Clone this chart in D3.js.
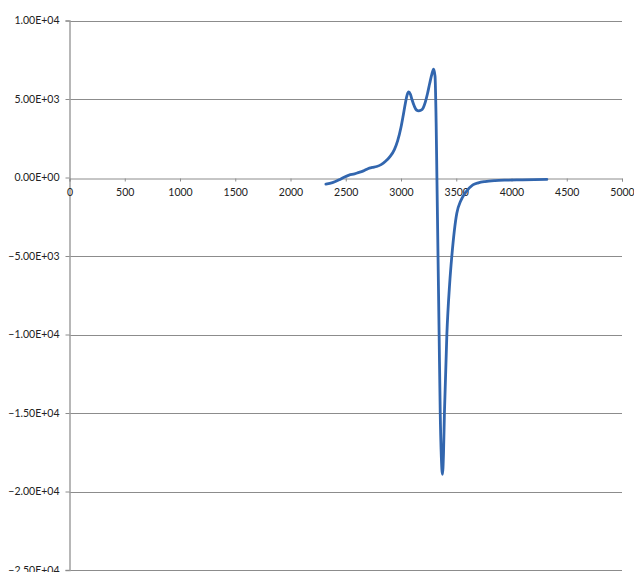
<!DOCTYPE html>
<html>
<head>
<meta charset="utf-8">
<script src="https://cdn.jsdelivr.net/npm/d3@7"></script>
<style>
  html, body { margin: 0; padding: 0; background: #fff; }
  svg { display: block; }
  text { font-family: Lato, "Open Sans", "Liberation Sans", sans-serif; font-size: 10.5px; fill: #222; }
</style>
</head>
<body>
<svg id="chart" width="634" height="572"></svg>
<script>
// Spectrum samples: field position and signal intensity
const fieldValues = [2320, 2380, 2440, 2480, 2530, 2580, 2620, 2660, 2700, 2740, 2780, 2820, 2860, 2900, 2940, 2970, 3000, 3020, 3040, 3055, 3070, 3085, 3100, 3120, 3140, 3160, 3180, 3200, 3220, 3240, 3260, 3280, 3295, 3308, 3318, 3325, 3335, 3345, 3355, 3365, 3375, 3385, 3393, 3415, 3440, 3460, 3505, 3540, 3580, 3650, 3700, 3760, 3850, 3950, 4100, 4320];
const signalValues = [-420, -330, -150, 0, 150, 230, 330, 420, 560, 640, 700, 820, 1030, 1330, 1780, 2350, 3200, 3950, 4750, 5250, 5450, 5300, 4950, 4550, 4300, 4250, 4280, 4420, 4800, 5350, 6000, 6600, 6900, 6450, 3500, 0, -5000, -10000, -15000, -17800, -18900, -17500, -15000, -10000, -6800, -5000, -2270, -1500, -995, -470, -340, -260, -200, -170, -150, -120];

const xTicks = [0, 500, 1000, 1500, 2000, 2500, 3000, 3500, 4000, 4500, 5000];
const yTicks = [10000, 5000, 0, -5000, -10000, -15000, -20000, -25000];

const svg = d3.select("#chart");
const plotLeft = 69.5, plotRight = 622, plotTop = 20.5, plotBottom = 570;

const x = d3.scaleLinear().domain([0, 5000]).range([plotLeft, plotRight]);
const y = d3.scaleLinear().domain([-25000, 10000]).range([plotBottom, plotTop]);

const gridColor = "#8c8c8c";

// horizontal gridlines
svg.append("g")
  .selectAll("line")
  .data(yTicks.filter(v => v !== 0))
  .join("line")
  .attr("x1", plotLeft).attr("x2", plotRight)
  .attr("y1", d => Math.round(y(d)) + 0.5).attr("y2", d => Math.round(y(d)) + 0.5)
  .attr("stroke", gridColor).attr("stroke-width", 1);

// vertical axis with left ticks
const yAxis = svg.append("g")
  .attr("transform", `translate(${plotLeft},0)`)
  .call(d3.axisLeft(y).tickValues(yTicks).tickSize(4).tickPadding(6)
    .tickFormat(d => {
      const s = d3.format(".2e")(d).toUpperCase();
      return s.replace(/E([+-])(\d)$/, "E$10$2");
    }));
yAxis.select(".domain").attr("stroke", "#a0a0a0").attr("stroke-width", 1.5);
yAxis.selectAll(".tick line").attr("stroke", gridColor);
yAxis.selectAll(".tick text").style("font-size", "10.5px").attr("fill", "#222");

// horizontal axis crossing at zero, labels below
const xAxis = svg.append("g")
  .attr("transform", `translate(0,${Math.round(y(0)) + 0.5})`)
  .call(d3.axisBottom(x).tickValues(xTicks).tickSize(3).tickPadding(7).tickFormat(d3.format("d")));
xAxis.select(".domain").attr("stroke", gridColor).attr("stroke-width", 1);
xAxis.selectAll(".tick line").attr("stroke", gridColor);
xAxis.selectAll(".tick text").style("font-size", "10.5px").attr("fill", "#222");

// spectrum curve
const points = fieldValues.map((f, i) => [f, signalValues[i]]);
const line = d3.line()
  .x(d => x(d[0]))
  .y(d => y(d[1]))
  .curve(d3.curveMonotoneX);

svg.append("path")
  .datum(points)
  .attr("d", line)
  .attr("fill", "none")
  .attr("stroke", "#3266ae")
  .attr("stroke-width", 2.8)
  .attr("stroke-linejoin", "round")
  .attr("stroke-linecap", "round");
</script>
</body>
</html>
